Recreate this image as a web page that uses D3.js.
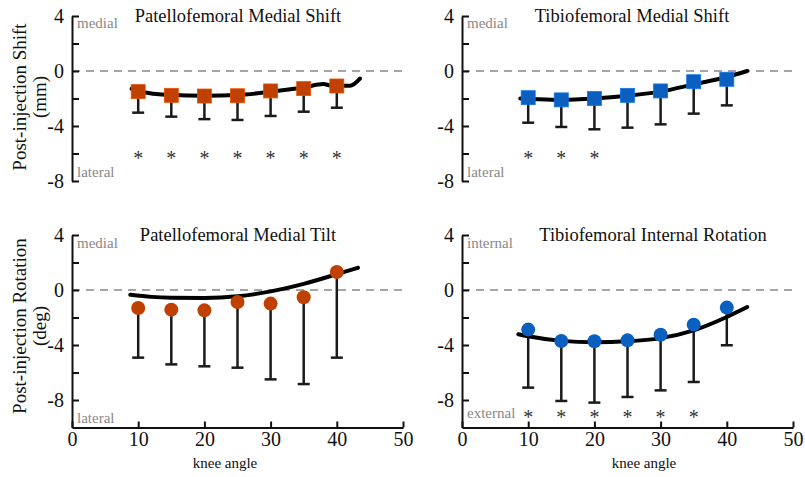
<!DOCTYPE html>
<html>
<head>
<meta charset="utf-8">
<script src="https://cdn.jsdelivr.net/npm/d3@7"></script>
<style>
	body { margin: 0; background: #fff; }
	svg text { font-family: "Liberation Serif", "DejaVu Serif", serif; }
</style>
</head>
<body>
<div id="chart"></div>
<script>

// knee angles where the means were measured
var kneeAngles = [10, 15, 20, 25, 30, 35, 40];

// patellofemoral medial shift (mm)
var pfShiftMean = [-1.5, -1.77, -1.82, -1.8, -1.45, -1.28, -1.09];
var pfShiftLow = [-3.03, -3.32, -3.5, -3.56, -3.27, -2.96, -2.67];
var pfShiftFitX = [9, 10, 15, 20, 25, 30, 35, 38, 39, 40, 42, 43.5];
var pfShiftFitY = [-1.3, -1.45, -1.75, -1.8, -1.75, -1.5, -1.2, -0.95, -1.05, -1.07, -1.07, -0.55];
var pfShiftStars = [10, 15, 20, 25, 30, 35, 40];

// tibiofemoral medial shift (mm)
var tfShiftMean = [-1.94, -2.1, -2.0, -1.77, -1.45, -0.78, -0.6];
var tfShiftLow = [-3.76, -4.07, -4.24, -4.12, -3.88, -3.1, -2.5];
var tfShiftFitX = [8.8, 10, 15, 20, 25, 30, 35, 40, 43.1];
var tfShiftFitY = [-2.0, -2.02, -2.1, -2.0, -1.8, -1.5, -0.97, -0.44, 0];
var tfShiftStars = [10, 15, 20];

// patellofemoral medial tilt (deg)
var pfTiltMean = [-1.31, -1.43, -1.48, -0.87, -0.99, -0.53, 1.31];
var pfTiltLow = [-4.92, -5.41, -5.55, -5.65, -6.5, -6.84, -4.92];
var pfTiltFitX = [8.8, 12, 15, 20, 25, 30, 35, 40, 43.2];
var pfTiltFitY = [-0.35, -0.5, -0.56, -0.58, -0.46, -0.1, 0.45, 1.15, 1.62];
var pfTiltStars = [];

// tibiofemoral internal rotation (deg)
var tfRotMean = [-2.88, -3.71, -3.73, -3.66, -3.25, -2.52, -1.28];
var tfRotLow = [-7.1, -8.07, -8.19, -7.78, -7.3, -6.69, -4.02];
var tfRotFitX = [8.5, 10, 15, 20, 25, 30, 35, 40, 43.1];
var tfRotFitY = [-3.22, -3.37, -3.7, -3.8, -3.73, -3.5, -2.93, -1.96, -1.24];
var tfRotStars = [10, 15, 20, 25, 30, 35];

var yTicks = [4, 2, 0, -2, -4, -6, -8];
var yTickLabels = [4, 0, -4, -8];
var xTicks = [0, 10, 20, 30, 40, 50];

var orange = "#c04000";
var blue = "#0b5fbf";

var svg = d3.select('#chart').append('svg')
	.attr('width', 805)
	.attr('height', 477);

function drawPanel(p) {
	var x = d3.scaleLinear().domain([0, 50]).range([p.left, p.left + 331]);
	var y = d3.scaleLinear().domain(p.yDomain).range([p.bottom, p.top]);
	var g = svg.append('g');

	// zero line
	g.append('line')
		.attr('x1', x(0)).attr('x2', x(50.3))
		.attr('y1', y(0)).attr('y2', y(0))
		.attr('stroke', '#888').attr('stroke-width', 1.5)
		.attr('stroke-dasharray', '8,6');

	var yAxis = d3.axisLeft(y)
		.tickValues(yTicks)
		.tickSizeInner(-7)
		.tickSizeOuter(0)
		.tickPadding(8)
		.tickFormat(function(d) { return yTickLabels.indexOf(d) >= 0 ? d : ''; });

	var ya = g.append('g')
		.attr('transform', 'translate(' + x(0) + ',0)')
		.call(yAxis);
	ya.select('.domain').attr('stroke', '#111').attr('stroke-width', 2);
	ya.selectAll('.tick line').attr('stroke', '#111').attr('stroke-width', 2);
	ya.selectAll('.tick text').attr('font-size', 20).attr('fill', '#111');

	if (p.xAxis) {
		var xAxis = d3.axisBottom(x)
			.tickValues(xTicks)
			.tickSizeInner(-6)
			.tickSizeOuter(0)
			.tickPadding(4);
		var xa = g.append('g')
			.attr('transform', 'translate(0,' + y(p.yDomain[0]) + ')')
			.call(xAxis);
		xa.select('.domain').attr('stroke', '#111').attr('stroke-width', 2);
		xa.selectAll('.tick line').attr('stroke', '#111').attr('stroke-width', 2);
		xa.selectAll('.tick text').attr('font-size', 20).attr('fill', '#111');

		g.append('text')
			.attr('x', p.xLabelX).attr('y', 468)
			.attr('text-anchor', 'middle')
			.attr('font-size', 15)
			.attr('fill', '#111')
			.text('knee angle');
	}

	// direction labels
	g.append('text')
		.attr('x', x(0) + 5).attr('y', y(p.upLabelY))
		.attr('font-size', 15).attr('fill', '#888')
		.text(p.upLabel);
	g.append('text')
		.attr('x', x(0) + 5).attr('y', y(p.downLabelY))
		.attr('font-size', 15).attr('fill', '#888')
		.text(p.downLabel);

	// title
	g.append('text')
		.attr('x', p.titleX).attr('y', p.top + 6)
		.attr('text-anchor', 'middle')
		.attr('font-size', 18.5)
		.attr('fill', '#111')
		.text(p.title);

	// error bars
	var bars = g.selectAll('.bar').data(kneeAngles).enter().append('g');
	bars.append('line')
		.attr('x1', function(d) { return x(d); })
		.attr('x2', function(d) { return x(d); })
		.attr('y1', function(d, i) { return y(p.mean[i]); })
		.attr('y2', function(d, i) { return y(p.low[i]); })
		.attr('stroke', '#1a1a1a').attr('stroke-width', 2.5);
	bars.append('line')
		.attr('x1', function(d) { return x(d) - 6; })
		.attr('x2', function(d) { return x(d) + 6; })
		.attr('y1', function(d, i) { return y(p.low[i]); })
		.attr('y2', function(d, i) { return y(p.low[i]); })
		.attr('stroke', '#1a1a1a').attr('stroke-width', 2.5);

	// fitted curve
	var fit = p.fitX.map(function(d, i) { return [d, p.fitY[i]]; });
	var line = d3.line()
		.x(function(d) { return x(d[0]); })
		.y(function(d) { return y(d[1]); })
		.curve(d3.curveMonotoneX);
	g.append('path')
		.datum(fit)
		.attr('d', line)
		.attr('fill', 'none')
		.attr('stroke', '#000')
		.attr('stroke-width', 4)
		.attr('stroke-linecap', 'round');

	// markers
	if (p.shape === 'square') {
		g.selectAll('.mk').data(kneeAngles).enter().append('rect')
			.attr('x', function(d) { return x(d) - 7; })
			.attr('y', function(d, i) { return y(p.mean[i]) - 7; })
			.attr('width', 14).attr('height', 14)
			.attr('fill', p.color)
			.attr('stroke', d3.color(p.color).brighter(0.6)).attr('stroke-width', 0.8);
	} else {
		g.selectAll('.mk').data(kneeAngles).enter().append('circle')
			.attr('cx', function(d) { return x(d); })
			.attr('cy', function(d, i) { return y(p.mean[i]); })
			.attr('r', 7)
			.attr('fill', p.color);
	}

	// significance stars
	g.selectAll('.star').data(p.stars).enter().append('text')
		.attr('x', function(d) { return x(d); })
		.attr('y', y(p.starY) + 11)
		.attr('text-anchor', 'middle')
		.attr('font-size', 20)
		.attr('fill', '#333')
		.text('*');
}

drawPanel({left: 72, top: 16, bottom: 181, yDomain: [-8, 4], mean: pfShiftMean, low: pfShiftLow,
	fitX: pfShiftFitX, fitY: pfShiftFitY, stars: pfShiftStars, starY: -6, shape: 'square', color: orange,
	title: 'Patellofemoral Medial Shift', titleX: 238, upLabel: 'medial', upLabelY: 3.1,
	downLabel: 'lateral', downLabelY: -7.7, xAxis: false});

drawPanel({left: 462, top: 16, bottom: 181, yDomain: [-8, 4], mean: tfShiftMean, low: tfShiftLow,
	fitX: tfShiftFitX, fitY: tfShiftFitY, stars: tfShiftStars, starY: -6, shape: 'square', color: blue,
	title: 'Tibiofemoral Medial Shift', titleX: 632, upLabel: 'medial', upLabelY: 3.1,
	downLabel: 'lateral', downLabelY: -7.7, xAxis: false});

drawPanel({left: 72, top: 235, bottom: 427.5, yDomain: [-10, 4], mean: pfTiltMean, low: pfTiltLow,
	fitX: pfTiltFitX, fitY: pfTiltFitY, stars: pfTiltStars, starY: -9, shape: 'circle', color: orange,
	title: 'Patellofemoral Medial Tilt', titleX: 238, upLabel: 'medial', upLabelY: 3.05,
	downLabel: 'lateral', downLabelY: -9.7, xAxis: true, xLabelX: 225});

drawPanel({left: 462, top: 235, bottom: 427.5, yDomain: [-10, 4], mean: tfRotMean, low: tfRotLow,
	fitX: tfRotFitX, fitY: tfRotFitY, stars: tfRotStars, starY: -8.92, shape: 'circle', color: blue,
	title: 'Tibiofemoral Internal Rotation', titleX: 653, upLabel: 'internal', upLabelY: 3.05,
	downLabel: 'external', downLabelY: -9.3, xAxis: true, xLabelX: 644});

// y axis titles
function yTitle(cy, line1, line2) {
	svg.append('text')
		.attr('transform', 'translate(26,' + cy + ') rotate(-90)')
		.attr('text-anchor', 'middle')
		.attr('font-size', 19).attr('fill', '#111')
		.text(line1);
	svg.append('text')
		.attr('transform', 'translate(46,' + cy + ') rotate(-90)')
		.attr('text-anchor', 'middle')
		.attr('font-size', 19).attr('fill', '#111')
		.text(line2);
}
yTitle(97, 'Post-injection Shift', '(mm)');
yTitle(326, 'Post-injection Rotation', '(deg)');

</script>
</body>
</html>
